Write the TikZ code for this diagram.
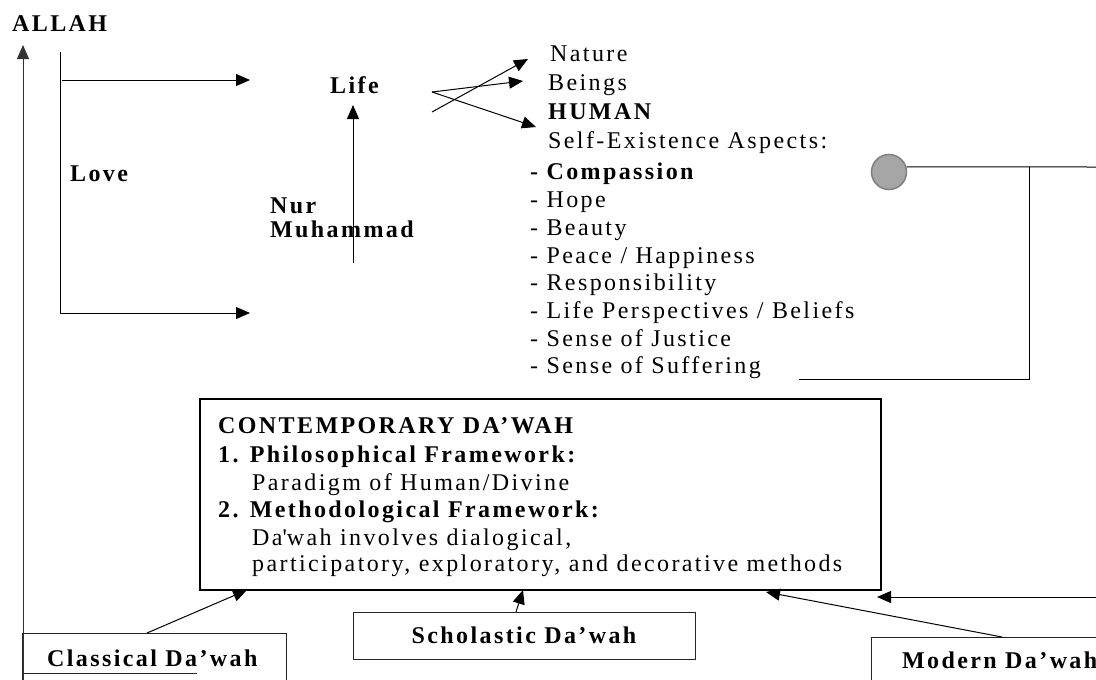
\documentclass[tikz,border=0pt]{standalone}
\usepackage{fontspec}
\setmainfont{Liberation Serif}[LetterSpace=10]
\usetikzlibrary{arrows.meta}
\definecolor{dotfill}{HTML}{A6A6A6}
\definecolor{dotline}{HTML}{7F7F7F}
\begin{document}
\begin{tikzpicture}[x=1pt,y=-1pt,
  txt/.style={anchor=base west, inner sep=0pt, font=\fontsize{24}{28}\selectfont},
  btxt/.style={anchor=base west, inner sep=0pt, font=\fontsize{24}{28}\selectfont\bfseries},
  conn/.style={line width=1pt, draw=black},
  arr/.style={conn, -{Triangle[length=14pt,width=12pt]}},
  boxline/.style={line width=1pt, draw=black!85}]
\useasboundingbox (0,0) rectangle (1096,680);

% ---- left texts
\node[btxt] (allah) at (12,31) {ALLAH};
\node[btxt] (love) at (70,181) {Love};
\node[btxt] (life) at (330,93) {Life};
\node[btxt] (nur) at (270,213) {Nur};
\node[btxt] (muh) at (270,237) {Muhammad};

% ---- right list
\node[txt] (nature) at (550,61) {Nature};
\node[txt] (beings) at (548,90) {Beings};
\node[btxt] (human) at (548,119) {HUMAN};
\node[txt] (self) at (548,148) {Self-Existence Aspects:};
\node[btxt] (a1) at (530,179) {- Compassion};
\node[txt] (a2) at (530,207) {- Hope};
\node[txt] (a3) at (530,235) {- Beauty};
\node[txt] (a4) at (530,263) {- Peace / Happiness};
\node[txt] (a5) at (530,290) {- Responsibility};
\node[txt] (a6) at (530,318) {- Life Perspectives / Beliefs};
\node[txt] (a7) at (530,346) {- Sense of Justice};
\node[txt] (a8) at (530,373) {- Sense of Suffering};

% ---- coordinates
\coordinate (allahfoot) at (23,680);
\coordinate (allahtip) at (23,45);
\coordinate (lovetop) at (60,52);
\coordinate (lovebot) at (60,313);
\coordinate (lovehi) at (62,80);
\coordinate (lovehitip) at (250,80);
\coordinate (lovelotip) at (250,313);
\coordinate (nurfoot) at (353,263);
\coordinate (nurtip) at (353,105);
\coordinate (fanA) at (432,92);
\coordinate (fanB) at (432,112);
\coordinate (tipNature) at (528,59);
\coordinate (tipBeings) at (523,81);
\coordinate (tipHuman) at (536,127);

% ---- left structure
\draw[conn, black!80, -{Triangle[length=14pt,width=12pt]}] (allahfoot) -- (allahtip);
\draw[conn] (lovetop) -- (lovebot);
\draw[arr] (lovehi) -- (lovehitip);
\draw[arr] (lovebot) -- (lovelotip);
\draw[arr] (nurfoot) -- (nurtip);
\draw[arr] (fanA) -- (tipBeings);
\draw[arr] (fanB) -- (tipNature);
\draw[arr] (fanA) -- (tipHuman);

% ---- circle and right bracket
\node[circle, fill=dotfill, draw=dotline, line width=1.5pt, minimum size=35pt, inner sep=0pt] (dot) at (889,172) {};
\coordinate (rt) at (1096,167);
\coordinate (j1) at (1029,167);
\coordinate (j2) at (1029,379);
\coordinate (sufend) at (799,379);
\draw[conn] (dot.16) -- (rt);
\draw[conn] (j1) -- (j2) -- (sufend);

% ---- contemporary box
\node[draw=black, line width=1.8pt, inner sep=0pt, minimum width=681pt, minimum height=191pt, anchor=north west] (cbox) at (199,398) {};
\node[btxt] (ch) at (218,433) {CONTEMPORARY DA’WAH};
\node[btxt] (c1) at (218,462) {1. Philosophical Framework:};
\node[txt] (c1b) at (252,490) {Paradigm of Human/Divine};
\node[btxt] (c2) at (218,517) {2. Methodological Framework:};
\node[txt] (c2b) at (252,545) {Da\textquotesingle wah involves dialogical,};
\node[txt] (c2c) at (252,571) {participatory, exploratory, and decorative methods};

% ---- bottom boxes
\draw[boxline] (22,680) |- (286,633) -- (286,680);
\draw[boxline] (24,673) -- (197,673);
\node[btxt] (classical) at (47,666) {Classical Da’wah};
\node[draw=black!85, line width=1pt, minimum width=342pt, minimum height=47pt, inner sep=0pt,
      font=\fontsize{24}{28}\selectfont\bfseries] (schol) at (524,635.5) {Scholastic Da’wah};
\draw[boxline] (871,680) |- (1096,637);
\node[btxt] (modern) at (902,668) {Modern Da’wah};

% ---- arrows into contemporary box
\coordinate (clfrom) at (147,633);
\coordinate (cltip) at (247,590);
\coordinate (scfrom) at (516,612);
\coordinate (sctip) at (523,590);
\coordinate (mofrom) at (1002,637);
\coordinate (motip) at (766,592);
\coordinate (redge) at (1096,597);
\coordinate (rtip) at (877,597);
\draw[arr] (clfrom) -- (cltip);
\draw[arr] (scfrom) -- (sctip);
\draw[arr] (mofrom) -- (motip);
\draw[arr] (redge) -- (rtip);
\end{tikzpicture}
\end{document}
